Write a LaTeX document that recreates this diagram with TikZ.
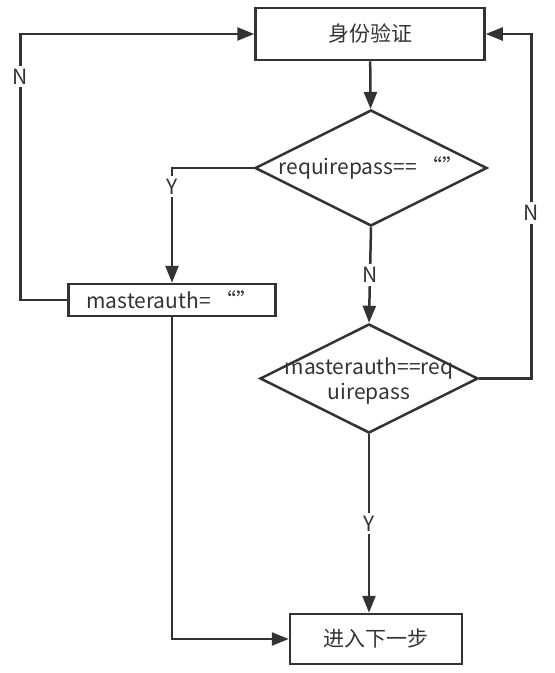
\documentclass[tikz,border=0pt]{standalone}
\usepackage{fontspec}
\setmainfont{Noto Sans CJK SC}
\usepackage{xcolor}
\usepackage{tikz}
\usetikzlibrary{
  arrows.meta,
  calc,
  shapes.geometric
}
\definecolor{linegray}{HTML}{333333}

\begin{document}
\begin{tikzpicture}[
    x=1pt,
    y=-1pt,
    >={Triangle[length=17pt,width=13pt]},
    every node/.style={text=linegray,font=\fontsize{21}{25}\selectfont},
    flowbox/.style={draw=linegray,line width=2.5pt,rectangle,inner sep=0pt},
    decision/.style={draw=linegray,line width=2.5pt,diamond,aspect=2,inner sep=0pt},
    flowline/.style={draw=linegray,line width=2.5pt},
    answer/.style={fill=white,inner sep=3pt}
    ]
    
    \useasboundingbox (0,0) rectangle (555,673);
    
    \node[flowbox,minimum width=229pt,minimum height=52pt]
    (auth) at (370,34) {身份验证};
    
    \node[decision,minimum width=232pt,minimum height=116pt,
    label={center:requirepass==~“”}]
    (passcheck) at (371,168) {};
    
    \node[flowbox,minimum width=207pt,minimum height=32pt]
    (master) at (172,300) {masterauth=~“”};
    
    \node[decision,minimum width=218pt,minimum height=109pt,
    label={[align=center,yshift=-3pt]center:masterauth==req\\[0pt]uirepass}]
    (authcheck) at (369,378.5) {};
    
    \node[flowbox,minimum width=172pt,minimum height=50pt]
    (next) at (376,639) {进入下一步};
    
    \draw[flowline,->] (auth) -- (passcheck);
    
    \draw[flowline,->] (passcheck.west) -| (master.north)
    node[answer,pos=0.58]{Y};
    
    \draw[flowline,->] (master.west) -- ++(-47,0) |- (auth.west)
    node[answer,pos=0.42]{N};
    
    \draw[flowline,->] (passcheck.south) -- (authcheck.north)
    node[answer,midway]{N};
    
    \draw[flowline,->] (authcheck.east) -- ++(52,0) |- (auth.east)
    node[answer,pos=0.24]{N};
    
    \draw[flowline,->] (authcheck.south) -- (authcheck.south |- next.north)
    node[answer,midway]{Y};
    
    \draw[flowline,->] (master.south) |- (next.west);
    
\end{tikzpicture}
\end{document}
